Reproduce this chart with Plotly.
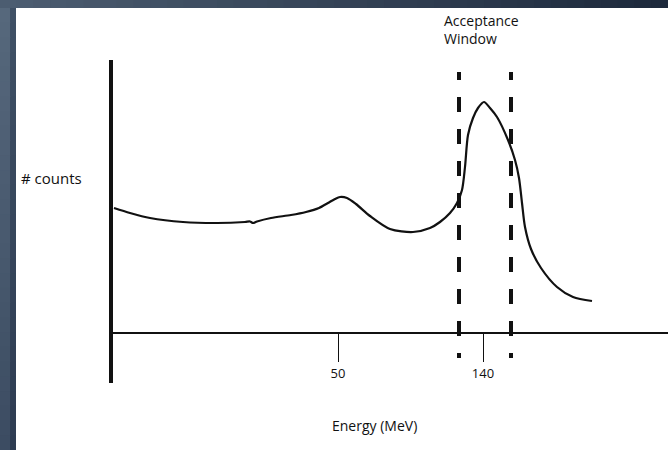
import plotly.graph_objects as go

# Schematic spectrum (arbitrary horizontal units, arbitrary counts)
energy_pos = [3, 19, 39, 72, 106, 134, 139, 142, 146, 160, 180, 195, 208, 217, 224, 229, 236,
              245, 259, 279, 302, 319, 329, 339, 346, 351, 354, 357, 362, 367, 373, 379, 386,
              397, 404, 408, 411, 414, 420, 430, 446, 462, 481]
counts = [125, 120, 115, 111, 110, 111, 111.5, 110, 111.5, 115, 118, 121, 125, 130, 134, 136, 135,
          129, 117, 104, 101, 105, 111, 120, 130, 143, 166, 198, 215, 225, 231, 225, 216,
          193, 173, 155, 130, 106, 84, 65, 46, 36, 32]

# Energy tick marks and their labels
tick_pos = [227, 372]
tick_labels = ["50", "140"]

# Acceptance window edges
window_edges = [348, 400]

X_RANGE = [2, 557]
Y_RANGE = [-50, 273]

W, H = 668, 450
ML, MR, MT, MB = 113, 0, 60, 67
PW, PH = W - ML - MR, H - MT - MB


def paper_x(px):
    return (px - ML) / PW


def paper_y(py):
    return (H - MB - py) / PH


FONT = "Open Sans"
INK = "#111111"

fig = go.Figure()
fig.add_trace(go.Scatter(
    x=energy_pos, y=counts, mode="lines",
    line=dict(color=INK, width=2.2, shape="spline", smoothing=0.8),
    hoverinfo="skip", showlegend=False,
))

shapes = []

# Framing background: white panel with a dark gradient border on the top and left
shapes.append(dict(type="rect", xref="paper", yref="paper", layer="below",
                   x0=paper_x(0), x1=paper_x(W), y0=paper_y(H), y1=paper_y(0),
                   fillcolor="#ffffff", line=dict(width=0)))


def mix(c1, c2, t):
    a = [int(c1[i:i + 2], 16) for i in (1, 3, 5)]
    b = [int(c2[i:i + 2], 16) for i in (1, 3, 5)]
    return "#" + "".join(f"{round(a[k] + (b[k] - a[k]) * t):02x}" for k in range(3))


n_top = 40
for i in range(n_top):
    x0 = W * i / n_top
    x1 = W * (i + 1) / n_top + 2
    shapes.append(dict(type="rect", xref="paper", yref="paper", layer="below",
                       x0=paper_x(x0), x1=paper_x(x1), y0=paper_y(8), y1=paper_y(0),
                       fillcolor=mix("#4c5d71", "#1d293c", i / (n_top - 1)),
                       line=dict(width=0)))

n_left = 30
for i in range(n_left):
    y0 = 8 + (H - 8) * i / n_left
    y1 = 8 + (H - 8) * (i + 1) / n_left + 2
    t = i / (n_left - 1)
    shapes.append(dict(type="rect", xref="paper", yref="paper", layer="below",
                       x0=paper_x(0), x1=paper_x(11), y0=paper_y(y1), y1=paper_y(y0),
                       fillcolor=mix("#56687c", "#3c4c62", t), line=dict(width=0)))
    shapes.append(dict(type="rect", xref="paper", yref="paper", layer="below",
                       x0=paper_x(10), x1=paper_x(16), y0=paper_y(y1), y1=paper_y(y0),
                       fillcolor=mix("#3f5065", "#2e3c52", t), line=dict(width=0)))

# Acceptance window dashed boundaries
dash_pattern = "8px,17px" + ",15px,17px" * 10
for edge in window_edges:
    shapes.append(dict(type="line", xref="x", yref="y",
                       x0=edge, x1=edge, y0=Y_RANGE[1] - 12, y1=-25,
                       line=dict(color=INK, width=4, dash=dash_pattern)))

annotations = [
    dict(text="# counts", xref="paper", yref="paper", x=paper_x(19), y=paper_y(178),
         xanchor="left", yanchor="middle", showarrow=False,
         font=dict(family=FONT, size=15, color=INK)),
    dict(text="Acceptance<br>Window", xref="paper", yref="paper", x=paper_x(442), y=paper_y(9),
         xanchor="left", yanchor="top", align="left", showarrow=False,
         font=dict(family=FONT, size=14, color=INK)),
    dict(text="Energy (MeV)", xref="paper", yref="paper", x=paper_x(374), y=paper_y(425),
         xanchor="center", yanchor="middle", showarrow=False,
         font=dict(family=FONT, size=14, color=INK)),
]

fig.update_layout(
    width=W, height=H,
    margin=dict(l=ML, r=MR, t=MT, b=MB, pad=0),
    paper_bgcolor="#ffffff", plot_bgcolor="rgba(0,0,0,0)",
    shapes=shapes, annotations=annotations,
    xaxis=dict(range=X_RANGE, anchor="free", position=-Y_RANGE[0] / (Y_RANGE[1] - Y_RANGE[0]),
               showline=True, linecolor=INK, linewidth=1.8,
               showgrid=False, zeroline=False,
               ticks="outside", ticklen=28, tickwidth=1.4, tickcolor=INK,
               tickvals=tick_pos, ticktext=tick_labels,
               tickfont=dict(family=FONT, size=13, color=INK), fixedrange=True),
    yaxis=dict(range=Y_RANGE, showline=True, linecolor=INK, linewidth=3.5,
               showgrid=False, zeroline=False, showticklabels=False, ticks="",
               fixedrange=True),
    showlegend=False,
)

fig.write_html("out.html", config={"displayModeBar": False})
